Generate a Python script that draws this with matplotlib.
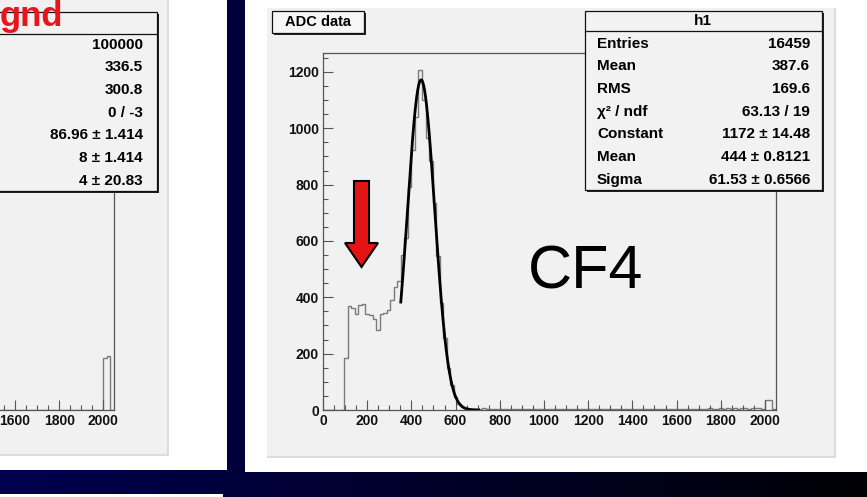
import numpy as np
import matplotlib.pyplot as plt
from matplotlib.patches import Rectangle, Polygon
from matplotlib.ticker import MultipleLocator

plt.rcParams['font.family'] = ['Liberation Sans', 'DejaVu Sans']

# ADC histogram (CF4), 16-count bins from 0 to 2048
bin_w = 16
low_counts = [0, 0, 0, 0, 0, 0, 185, 368, 362, 342, 372, 376,
              342, 336, 322, 285, 340, 345, 355, 390, 435, 458]
peak_counts = [550, 612, 790, 923, 1040, 1207, 1100, 966, 885, 735,
               548, 380, 255, 150, 90, 45, 22, 12, 6]
tail_counts = [4, 3, 5, 2, 6, 3, 4, 2, 3, 5, 2, 4,
               3, 2, 5, 3, 4, 2, 3, 2, 4, 3, 5, 2,
               3, 4, 2, 3, 2, 4, 3, 2, 5, 3, 2, 4,
               3, 2, 3, 4, 2, 3, 2, 4, 3, 2, 3, 5,
               2, 3, 4, 2, 3, 2, 4, 3, 2, 3, 4, 2,
               3, 5, 2, 4, 3, 2, 3, 4, 6, 5, 4, 6,
               5, 7, 4, 6, 5, 6, 7, 5, 6, 8, 6, 5]
end_counts = [35, 35, 4]
counts = low_counts + peak_counts + tail_counts + end_counts

# gaus fit
fit_const = 1172
fit_mean = 444
fit_sigma = 61.53
fit_lo, fit_hi = 352, 704

stat_labels = ['Entries', 'Mean', 'RMS', 'χ² / ndf', 'Constant', 'Mean', 'Sigma']
stat_values = ['16459', '387.6', '169.6', '63.13 / 19',
               '1172 ± 14.48', '444 ± 0.8121', '61.53 ± 0.6566']

# left (background) histogram, only its right end is on screen
left_values = ['100000', '336.5', '300.8', '0 / -3',
               '86.96 ± 1.414', '8 ± 1.414', '4 ± 20.83']
left_lo = 1536
left_counts = [0, 0, 0, 0, 0, 0, 0, 0, 0, 0, 0, 0, 0, 0, 0, 0,
               0, 0, 0, 0, 0, 0, 0, 0, 0, 0, 0, 0, 0, 150, 155, 0]

W, H = 867, 497
fig = plt.figure(figsize=(W / 100, H / 100), dpi=100)

# ---- slide background
bg = fig.add_axes([0, 0, 1, 1], zorder=0)
bg.set_xlim(0, W)
bg.set_ylim(H, 0)
bg.axis('off')
t = np.linspace(0, 1, 256)[None, :, None]
c0 = np.array([0.0, 0.0, 0.31])
c1 = np.array([0.0, 0.0, 0.02])
bg.imshow(c0 + (c1 - c0) * t, extent=[0, W, H, 0], aspect='auto')
bg.add_patch(Rectangle((-5, -5), 232, 475, fc='white', ec='none'))
bg.add_patch(Rectangle((-5, 494), 228, 10, fc='white', ec='none'))
bg.add_patch(Rectangle((245, -5), 630, 477, fc='white', ec='none'))
bg.add_patch(Rectangle((-5, -5), 174, 461, fc='#dcdcdc', ec='none'))
bg.add_patch(Rectangle((-5, -5), 172, 459, fc='#f1f1f1', ec='none'))
bg.add_patch(Rectangle((267, 8), 569, 450, fc='#dcdcdc', ec='none'))
bg.add_patch(Rectangle((267, 8), 567, 448, fc='#f1f1f1', ec='none'))


def root_axis(ax):
    ax.set_facecolor('#f1f1f1')
    for s in ax.spines.values():
        s.set_color('#555555')
        s.set_linewidth(0.9)
    ax.xaxis.set_minor_locator(MultipleLocator(50))
    ax.yaxis.set_minor_locator(MultipleLocator(50))
    ax.tick_params(which='major', direction='in', length=7, width=0.8,
                   color='#555555', labelsize=10, pad=3)
    ax.tick_params(which='minor', direction='in', length=3.5, width=0.8,
                   color='#555555')
    for lab in ax.get_xticklabels() + ax.get_yticklabels():
        lab.set_fontweight('bold')
        lab.set_color('#111111')


# ---- right histogram
px = 452.6 / 2048
ax = fig.add_axes([323 / W, (H - 410) / H, 452.6 / W, 357 / H], zorder=1)
edges = np.arange(0, 2048 + bin_w, bin_w)
ax.stairs(counts, edges, color='#7a7a7a', lw=1.0)
xf = np.linspace(fit_lo, fit_hi, 300)
ax.plot(xf, fit_const * np.exp(-0.5 * ((xf - fit_mean) / fit_sigma) ** 2),
        color='black', lw=2.0)
ax.set_xlim(0, 2048)
ax.set_ylim(0, 1.05 * max(counts))
ax.set_xticks(range(0, 2001, 200))
ax.set_yticks(range(0, 1201, 200))
root_axis(ax)

# ---- left histogram (cut by the slide edge)
axl = fig.add_axes([0, (H - 410) / H, 114 / W, 357 / H], zorder=1)
ledges = np.arange(left_lo, 2048 + bin_w, bin_w)
axl.stairs(left_counts, ledges, color='#7a7a7a', lw=1.0)
axl.set_xlim(2048 - 114 / px, 2048)
axl.set_ylim(0, 1030)
axl.set_xticks([1600, 1800, 2000])
root_axis(axl)
axl.set_yticks([])
axl.yaxis.set_minor_locator(MultipleLocator(10000))
axl.tick_params(axis='y', which='both', left=False, labelleft=False)
axl.spines['left'].set_visible(False)

# ---- overlays
fg = fig.add_axes([0, 0, 1, 1], zorder=2)
fg.set_xlim(0, W)
fg.set_ylim(H, 0)
fg.axis('off')
fg.patch.set_alpha(0)


def stats_box(x0, y0, x1, y1, yh):
    fg.add_patch(Rectangle((x0 + 2, y0 + 2), x1 - x0, y1 - y0, fc='#222222', ec='none'))
    fg.add_patch(Rectangle((x0, y0), x1 - x0, y1 - y0, fc='#f2f2f2', ec='#111111', lw=0.9))
    fg.plot([x0, x1], [yh, yh], color='#111111', lw=0.9)


row_y = [44, 66, 89, 112, 134, 157, 180]

stats_box(585, 11, 822, 190, 31)
fg.text(703, 21, 'h1', ha='center', va='center', fontsize=11, fontweight='bold')
for yy, lab, val in zip(row_y, stat_labels, stat_values):
    fg.text(597, yy, lab, ha='left', va='center', fontsize=11, fontweight='bold')
    fg.text(810, yy, val, ha='right', va='center', fontsize=11, fontweight='bold')

stats_box(-90, 12, 157, 191, 34)
for yy, val in zip(row_y, left_values):
    fg.text(143, yy + 1, val, ha='right', va='center', fontsize=11, fontweight='bold')
fg.text(0, 26, 'gnd', ha='left', va='baseline', fontsize=25, fontweight='bold',
        color='#e8141e')

# title box
fg.add_patch(Rectangle((274, 13), 92, 22, fc='#222222', ec='none'))
fg.add_patch(Rectangle((272, 11), 92, 22, fc='#f6f6f6', ec='#111111', lw=0.9))
fg.text(318, 22, 'ADC data', ha='center', va='center', fontsize=10.5, fontweight='bold')

# red arrow
fg.add_patch(Polygon([(354, 181), (369, 181), (369, 243), (378, 243), (361.5, 267),
                      (345, 243), (354, 243)], closed=True, fc='#e51414',
                     ec='black', lw=1.5))

fg.text(586, 273, 'CF4', ha='center', va='center', fontsize=44)

fig.savefig('out.png', dpi=100)
